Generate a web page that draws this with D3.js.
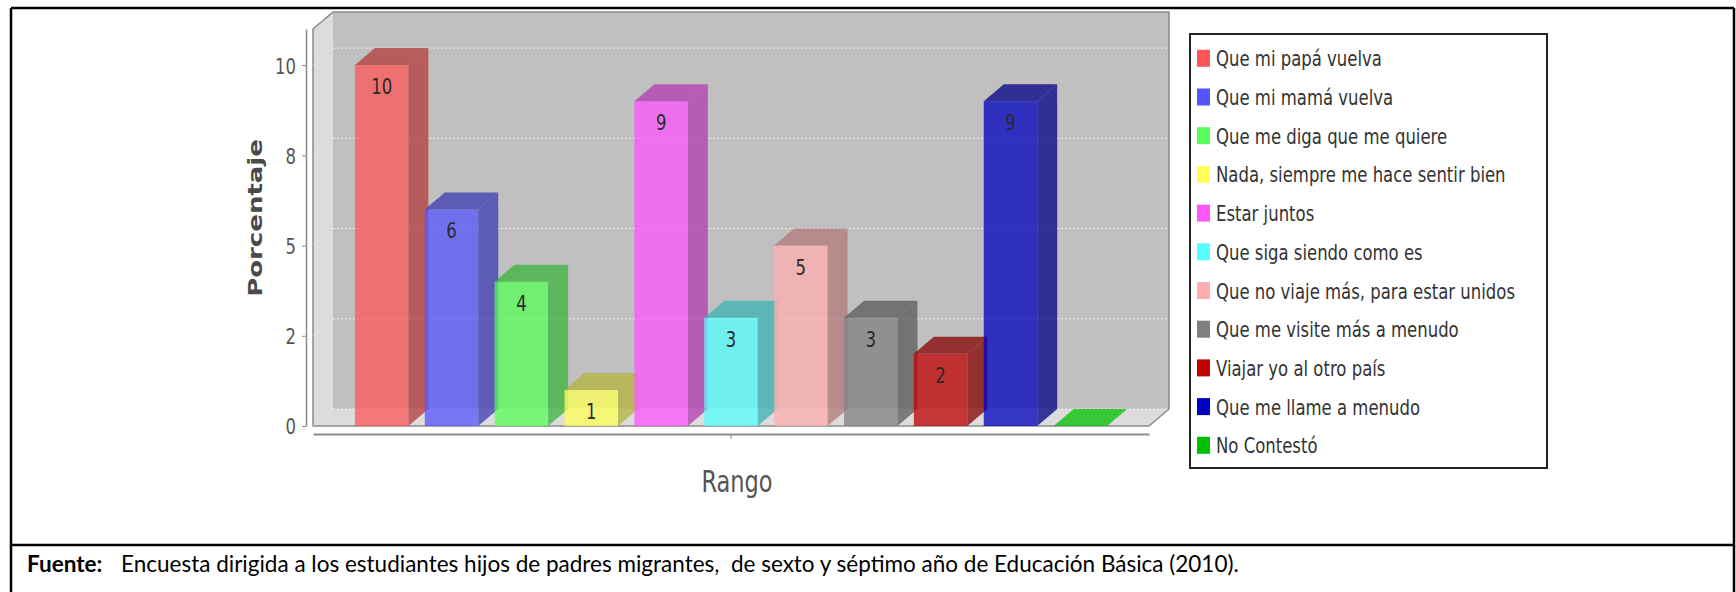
<!DOCTYPE html>
<html>
<head>
<meta charset="utf-8">
<script src="https://cdn.jsdelivr.net/npm/d3@7"></script>
<style>
  body { margin: 0; background: #fff; }
  svg text { font-family: "DejaVu Sans", sans-serif; }
  svg text.doc { font-family: Lato, "Open Sans", sans-serif; white-space: pre; }
</style>
</head>
<body>
<div id="container"></div>
<script>
const categories = [
  'Que mi papá vuelva',
  'Que mi mamá vuelva',
  'Que me diga que me quiere',
  'Nada, siempre me hace sentir bien',
  'Estar juntos',
  'Que siga siendo como es',
  'Que no viaje más, para estar unidos',
  'Que me visite más a menudo',
  'Viajar yo al otro país',
  'Que me llame a menudo',
  'No Contestó'
]
const values = [10, 6, 4, 1, 9, 3, 5, 3, 2, 9, 0]
const colors = ['#ff5555', '#5555ff', '#55ff55', '#ffff55', '#ff55ff', '#55ffff',
  '#ffafaf', '#808080', '#c00000', '#0000c0', '#00c000']
const yTicks = [0, 2.5, 5, 7.5, 10]
const yTickLabels = ['0', '2', '5', '8', '10']
const yMax = 11
const xTitle = 'Rango'
const yTitle = 'Porcentaje'
const sourceLabel = 'Fuente:'
const sourceText = 'Encuesta dirigida a los estudiantes hijos de padres migrantes,  de sexto y séptimo año de Educación Básica (2010).'

const width = 1736
const height = 592
const plotLeft = 313, plotRight = 1149, plotTop = 29, plotBottom = 426
const dx = 20, dy = 17
const squish = 0.75
const alpha = 0.75

const svg = d3.select('#container')
  .append('svg')
  .attr('width', width)
  .attr('height', height)

// table frame around the chart
const frame = svg.append('g').attr('stroke', '#000').attr('stroke-width', 2.5)
frame.append('line').attr('x1', 11).attr('x2', 1734).attr('y1', 8).attr('y2', 8)
frame.append('line').attr('x1', 11).attr('x2', 11).attr('y1', 8).attr('y2', 592)
frame.append('line').attr('x1', 1734).attr('x2', 1734).attr('y1', 8).attr('y2', 592)
frame.append('line').attr('x1', 11).attr('x2', 1734).attr('y1', 545).attr('y2', 545)

const y = d3.scaleLinear().domain([0, yMax]).range([plotBottom, plotTop])
const x = d3.scaleBand()
  .domain(categories)
  .range([plotLeft, plotRight])
  .paddingInner(0.235)
  .paddingOuter(0.6)

// 3d walls
const walls = svg.append('g')
walls.append('path')
  .attr('d', `M${plotLeft},${plotTop} L${plotLeft + dx},${plotTop - dy} L${plotLeft + dx},${plotBottom - dy} L${plotLeft},${plotBottom} Z`)
  .attr('fill', '#dcdcdc')
walls.append('path')
  .attr('d', `M${plotLeft},${plotBottom} L${plotLeft + dx},${plotBottom - dy} L${plotRight + dx},${plotBottom - dy} L${plotRight},${plotBottom} Z`)
  .attr('fill', '#dcdcdc')
walls.append('rect')
  .attr('x', plotLeft + dx)
  .attr('y', plotTop - dy)
  .attr('width', plotRight - plotLeft)
  .attr('height', plotBottom - plotTop)
  .attr('fill', '#c0c0c0')

// gridlines on back wall and left wall
const grid = svg.append('g')
  .attr('stroke', '#f2f2f2')
  .attr('stroke-width', 1)
  .attr('stroke-dasharray', '2,2')
grid.selectAll('.gb')
  .data(yTicks)
  .enter()
  .append('line')
  .attr('x1', plotLeft + dx)
  .attr('x2', plotRight + dx)
  .attr('y1', d => y(d) - dy)
  .attr('y2', d => y(d) - dy)
grid.selectAll('.gl')
  .data(yTicks)
  .enter()
  .append('line')
  .attr('stroke-opacity', 0.6)
  .attr('x1', plotLeft)
  .attr('x2', plotLeft + dx)
  .attr('y1', d => y(d))
  .attr('y2', d => y(d) - dy)

walls.append('path')
  .attr('d', `M${plotLeft},${plotBottom} L${plotLeft},${plotTop} L${plotLeft + dx},${plotTop - dy} L${plotRight + dx},${plotTop - dy} L${plotRight + dx},${plotBottom - dy} L${plotRight},${plotBottom} Z`)
  .attr('fill', 'none')
  .attr('stroke', '#8a8a8a')
  .attr('stroke-width', 1.5)

// bars
const darker = c => {
  const r = d3.rgb(c)
  return d3.rgb(r.r * 0.7, r.g * 0.7, r.b * 0.7).toString()
}
const data = categories.map((c, i) => ({ name: c, value: values[i], color: colors[i] }))

const bars = svg.append('g')
  .selectAll('g')
  .data(data)
  .enter()
  .append('g')
  .attr('fill-opacity', alpha)

bars.append('rect')
  .attr('x', d => x(d.name))
  .attr('y', d => y(d.value))
  .attr('width', x.bandwidth())
  .attr('height', d => plotBottom - y(d.value))
  .attr('fill', d => d.color)

bars.append('path')
  .attr('d', d => {
    const x1 = x(d.name) + x.bandwidth()
    return `M${x1},${y(d.value)} L${x1 + dx},${y(d.value) - dy} L${x1 + dx},${plotBottom - dy} L${x1},${plotBottom} Z`
  })
  .attr('fill', d => darker(d.color))

bars.append('path')
  .attr('d', d => {
    const x0 = x(d.name), x1 = x0 + x.bandwidth(), yt = y(d.value)
    return `M${x0},${yt} L${x0 + dx},${yt - dy} L${x1 + dx},${yt - dy} L${x1},${yt} Z`
  })
  .attr('fill', d => d.value > 0 ? darker(d.color) : d.color)

// value labels inside the bars
svg.append('g')
  .selectAll('text')
  .data(data.filter(d => d.value > 0))
  .enter()
  .append('text')
  .attr('transform', d => `translate(${x(d.name) + x.bandwidth() / 2},${y(d.value) + 29}) scale(${squish},1)`)
  .attr('text-anchor', 'middle')
  .attr('font-size', 22)
  .attr('fill', '#2a2a2a')
  .text(d => d.value)

// y axis
const axisY = d3.axisLeft(y)
  .tickValues(yTicks)
  .tickFormat((d, i) => yTickLabels[i])
  .tickSize(4)
  .tickSizeOuter(0)

const gy = svg.append('g')
  .attr('transform', `translate(306,0)`)
  .call(axisY)
gy.select('.domain').attr('stroke', '#8a8a8a').attr('stroke-width', 1.5)
gy.selectAll('.tick line').attr('stroke', '#8a8a8a')
gy.selectAll('.tick text')
  .attr('font-size', 22)
  .attr('font-family', '"DejaVu Sans", sans-serif')
  .attr('fill', '#555')
  .attr('x', -10 / squish)
  .attr('dy', '0.36em')
  .attr('transform', `scale(${squish},1)`)

// x axis (single category)
const xCat = d3.scaleBand().domain(['']).range([plotLeft, plotRight])
const axisX = d3.axisBottom(xCat).tickSize(5).tickSizeOuter(0).tickFormat('')
const gx = svg.append('g')
  .attr('transform', `translate(0,434)`)
  .call(axisX)
gx.select('.domain').attr('stroke', '#8c8c8c').attr('stroke-width', 2)
gx.selectAll('.tick line').attr('stroke', '#8c8c8c')

// axis titles
svg.append('text')
  .attr('transform', `translate(737,492) scale(${squish},1)`)
  .attr('text-anchor', 'middle')
  .attr('font-size', 30)
  .attr('fill', '#555')
  .text(xTitle)

svg.append('text')
  .attr('transform', `translate(262,218) scale(${squish},1) rotate(-90)`)
  .attr('text-anchor', 'middle')
  .attr('font-size', 26)
  .attr('font-weight', 'bold')
  .attr('fill', '#4a4a4a')
  .text(yTitle)

// legend
const legend = svg.append('g')
legend.append('rect')
  .attr('x', 1190)
  .attr('y', 34)
  .attr('width', 357)
  .attr('height', 434)
  .attr('fill', '#fff')
  .attr('stroke', '#222')
  .attr('stroke-width', 2)

const rows = legend.selectAll('.row')
  .data(data)
  .enter()
  .append('g')
  .attr('transform', (d, i) => `translate(1197,${58.3 + i * 38.7})`)
rows.append('rect')
  .attr('x', 0)
  .attr('y', -8.5)
  .attr('width', 13)
  .attr('height', 17)
  .attr('fill', d => d.color)
rows.append('text')
  .attr('transform', `translate(19,8) scale(${squish},1)`)
  .attr('font-size', 22)
  .attr('fill', '#333')
  .text(d => d.name)

// source line under the chart
svg.append('text')
  .attr('class', 'doc')
  .attr('x', 27)
  .attr('y', 572)
  .attr('font-size', 22.5)
  .attr('font-weight', 'bold')
  .text(sourceLabel)
svg.append('text')
  .attr('class', 'doc')
  .attr('x', 121)
  .attr('y', 572)
  .attr('font-size', 22.5)
  .text(sourceText)
</script>
</body>
</html>
